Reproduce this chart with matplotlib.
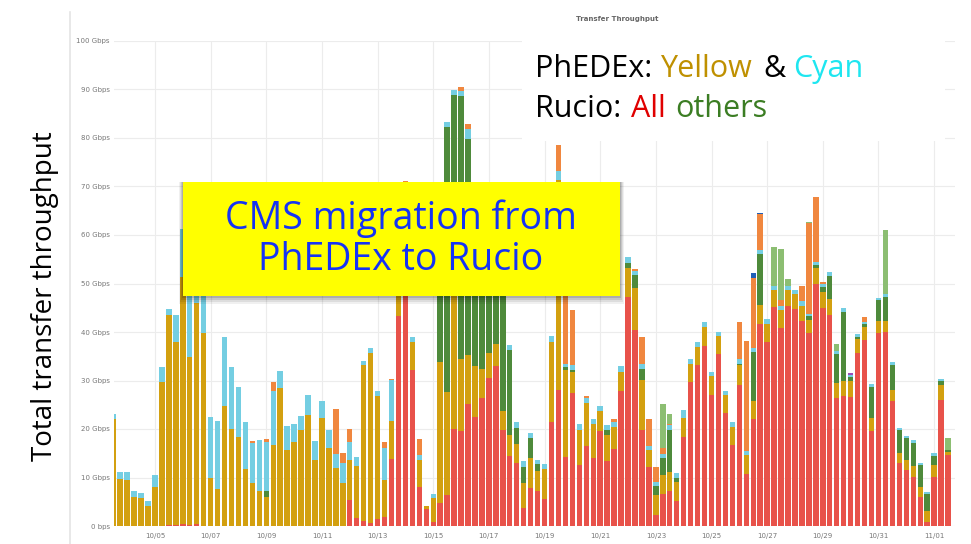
import matplotlib.pyplot as plt
import numpy as np
from matplotlib.patches import Rectangle
from matplotlib.lines import Line2D

# 6-hour bins, index -1 .. 119 (bar -1 is clipped at the left edge)
red = [0, 0, 0, 0, 0, 0, 0, 0,
       0.3, 0.3, 0.4, 0.3, 0.4, 0, 0, 0,
       0, 0, 0, 0, 0, 0, 0, 0,
       0, 0, 0, 0, 0, 0, 0, 0,
       0, 0, 5.4, 1.7, 1.0, 0.7, 1.5, 1.8,
       13.8, 43.4, 70.0, 32.2, 8.1, 3.6, 0.9, 4.7,
       6.4, 20.1, 19.5, 25.2, 22.5, 26.3, 30.6, 32.9,
       19.7, 14.4, 12.9, 3.8, 7.8, 7.2, 5.5, 21.4,
       28.0, 14.3, 27.5, 12.6, 16.4, 14.0, 19.5, 13.5,
       15.8, 27.8, 47.3, 40.4, 19.8, 12.1, 2.3, 6.7,
       7.3, 5.2, 18.4, 29.6, 33.2, 37.2, 27.0, 35.5,
       23.2, 16.7, 29.1, 10.7, 22.0, 41.6, 37.9, 45.1,
       40.8, 45.4, 44.7, 42.3, 39.7, 50.0, 44.9, 43.6,
       26.3, 26.8, 26.7, 35.7, 38.4, 19.5, 39.7, 40.1,
       25.8, 12.9, 11.5, 10.2, 5.9, 0.9, 10.2, 26.0,
       14.6]
gold = [22, 9.6, 9.4, 6.0, 5.7, 4.1, 8.1, 29.6,
        43.3, 37.6, 51.0, 34.6, 45.6, 39.7, 10.0, 7.6,
        24.8, 19.9, 18.4, 11.7, 8.9, 7.3, 6.0, 16.6,
        28.5, 15.7, 17.4, 19.7, 22.9, 13.7, 22.2, 16.0,
        11.9, 8.8, 8.3, 10.7, 32.1, 34.9, 25.3, 7.7,
        7.9, 7.0, 0, 5.8, 5.6, 0.6, 4.8, 29.2,
        21.3, 30.0, 15.0, 10.0, 10.5, 6.0, 5.0, 4.6,
        4.1, 4.4, 4.1, 5.1, 6.3, 4.2, 6.2, 16.5,
        43.3, 17.9, 4.3, 7.2, 9.0, 7.0, 4.3, 5.3,
        4.7, 4.0, 5.8, 8.7, 10.3, 3.6, 4.1, 3.8,
        3.9, 3.9, 3.8, 3.8, 3.8, 3.9, 3.9, 3.7,
        3.8, 3.8, 4.0, 3.9, 3.8, 4.0, 3.7, 3.6,
        3.7, 3.3, 3.1, 3.1, 2.8, 3.1, 3.4, 3.2,
        3.1, 3.0, 3.2, 2.8, 2.7, 2.7, 2.6, 2.2,
        2.2, 2.1, 2.1, 2.2, 2.1, 2.2, 2.4, 3.1,
        0.7]
dgreen = [0, 0, 0, 0, 0, 0, 0, 0,
          0, 0, 0, 0, 0, 0, 0, 0,
          0, 0, 0, 0, 0, 0, 1.2, 0,
          0, 0, 0, 0, 0, 0, 0, 0,
          0, 0, 0, 0, 0, 0, 0, 0,
          0, 0, 0, 0, 0, 0, 0, 24.0,
          54.6, 38.8, 54.2, 44.5, 27.0, 25.0, 20.0, 16.0,
          25.7, 17.5, 3.3, 3.3, 4.0, 1.3, 0, 0,
          0, 0.5, 0.4, 0, 0, 0, 0, 1.0,
          0, 0, 1.2, 2.7, 2.2, 0, 1.8, 3.5,
          8.6, 0.9, 0, 0, 0, 0, 0, 0,
          0, 0, 0.4, 0, 10.1, 10.5, 0, 0,
          0, 0, 0, 0, 0.9, 0.7, 0.9, 4.7,
          6.0, 14.4, 0.8, 0.5, 0.5, 6.5, 4.3, 5.0,
          5.2, 4.8, 4.6, 4.8, 4.6, 3.4, 1.9, 0.7,
          0.4]
cyan = [1.0, 1.6, 1.8, 1.3, 1.2, 1.1, 2.5, 3.1,
        1.1, 5.7, 9.8, 15.0, 3.5, 8.3, 12.4, 14.1,
        14.1, 12.9, 10.3, 9.8, 8.3, 10.4, 10.1, 11.3,
        3.5, 5.0, 3.6, 3.0, 4.1, 3.9, 3.6, 3.7,
        2.9, 4.1, 3.7, 1.8, 0.9, 1.1, 1.0, 6.5,
        8.5, 1.0, 0, 0.9, 0.9, 0, 0.8, 0.8,
        1.1, 0.9, 0.9, 2.1, 0.8, 0.8, 0.8, 0.8,
        0.8, 1.0, 1.2, 1.2, 1.1, 1.0, 1.1, 1.3,
        1.8, 0.8, 1.0, 1.2, 0.9, 1.0, 1.0, 1.0,
        1.0, 1.1, 1.1, 0.8, 1.0, 0.8, 0.9, 0.8,
        1.0, 0.9, 1.7, 1.0, 1.0, 1.0, 0.9, 0.9,
        0.9, 0.9, 0.9, 0.9, 0.9, 0.9, 1.0, 0.8,
        0.9, 0.8, 0.9, 0.9, 0.4, 0.7, 0.8, 0.9,
        0.6, 0.7, 0.4, 0.6, 0.5, 0.5, 0.5, 0.5,
        0.7, 0.5, 0.4, 0.5, 0.3, 0.6, 0.6, 0.5,
        0]
# sparse series: {bar index: Gbps}
orange = {19: 0.4, 21: 0.6, 22: 1.7, 31: 9.3, 32: 2.2, 33: 2.7, 38: 1.4, 39: 0.2,
          41: 1.2, 43: 3.3, 49: 1.0, 50: 1.0, 63: 5.5, 64: 18.0, 65: 11.3, 67: 0.5,
          71: 0.5, 74: 0.3, 75: 5.7, 76: 5.5, 77: 3.0, 78: 1.2, 79: 0.2, 89: 7.6,
          90: 22.7, 91: 14.3, 92: 7.3, 95: 1.2, 98: 3.2, 99: 18.6, 100: 13.4,
          101: 0.4, 107: 0.9}
lgreen = {78: 9.1, 79: 2.0, 94: 8.1, 95: 10.6, 96: 1.5, 99: 0.2, 103: 1.5, 110: 13.2, 119: 2.4}
blue = {91: 1.1, 92: 0.3}
purple = {105: 0.5}

xtick_labels = ['10/05', '10/07', '10/09', '10/11', '10/13', '10/15', '10/17', '10/19',
                '10/21', '10/23', '10/25', '10/27', '10/29', '10/31', '11/01']
ytick_labels = ['0 bps'] + ['%d Gbps' % v for v in range(10, 101, 10)]

W, H = 971, 544
x = np.arange(-1, 120)


def dense(d):
    a = np.zeros(len(x))
    for k, v in d.items():
        a[k + 1] = v
    return a


series = [(red, '#E8524A'), (gold, '#D3A010'), (dgreen, '#4E8A3B'), (cyan, '#74CEE2'),
          (dense(orange), '#F0873F'), (dense(lgreen), '#8CBE72'),
          (dense(blue), '#1F5FB8'), (dense(purple), '#9C4DB8')]

fig = plt.figure(figsize=(W / 100, H / 100), dpi=100)
ax = fig.add_axes([114 / W, 1 - 526 / H, 841 / W, 485 / H])

bottom = np.zeros(len(x))
for vals, col in series:
    vals = np.asarray(vals, dtype=float)
    ax.bar(x, vals, bottom=bottom, width=0.78, color=col, linewidth=0, zorder=2)
    bottom += vals

ax.set_xlim(-0.89, 120.0)
ax.set_ylim(0, 100)
ax.set_yticks(np.arange(0, 101, 10))
ax.set_yticklabels(ytick_labels)
ax.set_xticks(np.arange(5, 118, 8))
ax.set_xticklabels(xtick_labels)
ax.tick_params(length=0, labelsize=5, labelcolor='#777777')
ax.tick_params(axis='x', pad=5)
ax.tick_params(axis='y', pad=3)
ax.grid(True, color='#ececec', linewidth=0.8, zorder=0)
ax.set_axisbelow(True)
for s in ax.spines.values():
    s.set_visible(False)


def fx(px):
    return px / W


def fy(py):
    return 1 - py / H


# panel border of the screenshot
fig.add_artist(Line2D([fx(70), fx(70)], [fy(12), 0], color='#e4e4e4', lw=1.2))

fig.text(fx(617), fy(19), 'Transfer Throughput', fontsize=5, color='#666666',
         ha='center', va='center', fontweight='bold')

fig.text(fx(45), fy(296), 'Total transfer throughput', rotation=90, fontsize=20,
         family='Open Sans', ha='center', va='center', color='black')

# white box with the colour key
fig.add_artist(Rectangle((fx(522), fy(141)), (945 - 522) / W, (141 - 28) / H,
                         transform=fig.transFigure, facecolor='white', edgecolor='none', zorder=5))
key = [(535, 77, 'PhEDEx:', 'black'), (660, 77, 'Yellow', '#BF9000'),
       (763, 77, '&', 'black'), (793, 77, 'Cyan', '#1EE6F0'),
       (535, 117, 'Rucio:', 'black'), (631, 117, 'All', '#E00000'),
       (675, 117, 'others', '#3B7D23')]
for px_, py_, t, c in key:
    fig.text(fx(px_), fy(py_), t, fontsize=22, family='Open Sans', color=c,
             ha='left', va='baseline', zorder=6)

# yellow callout with soft shadow
for off, a in [(8, 0.06), (6, 0.08), (4, 0.10), (2, 0.12)]:
    fig.add_artist(Rectangle((fx(183 - off / 2), fy(296 + off)), (437 + off) / W, (114 + off) / H,
                             transform=fig.transFigure, facecolor='black', alpha=a,
                             edgecolor='none', zorder=5))
fig.add_artist(Rectangle((fx(183), fy(296)), 437 / W, 114 / H, transform=fig.transFigure,
                         facecolor='#FFFF00', edgecolor='none', zorder=6))
fig.text(fx(401), fy(239), 'CMS migration from\nPhEDEx to Rucio', fontsize=27,
         family='Open Sans', color='#1533F5', ha='center', va='center',
         linespacing=1.12, zorder=7)

fig.savefig('out.png', dpi=100)
